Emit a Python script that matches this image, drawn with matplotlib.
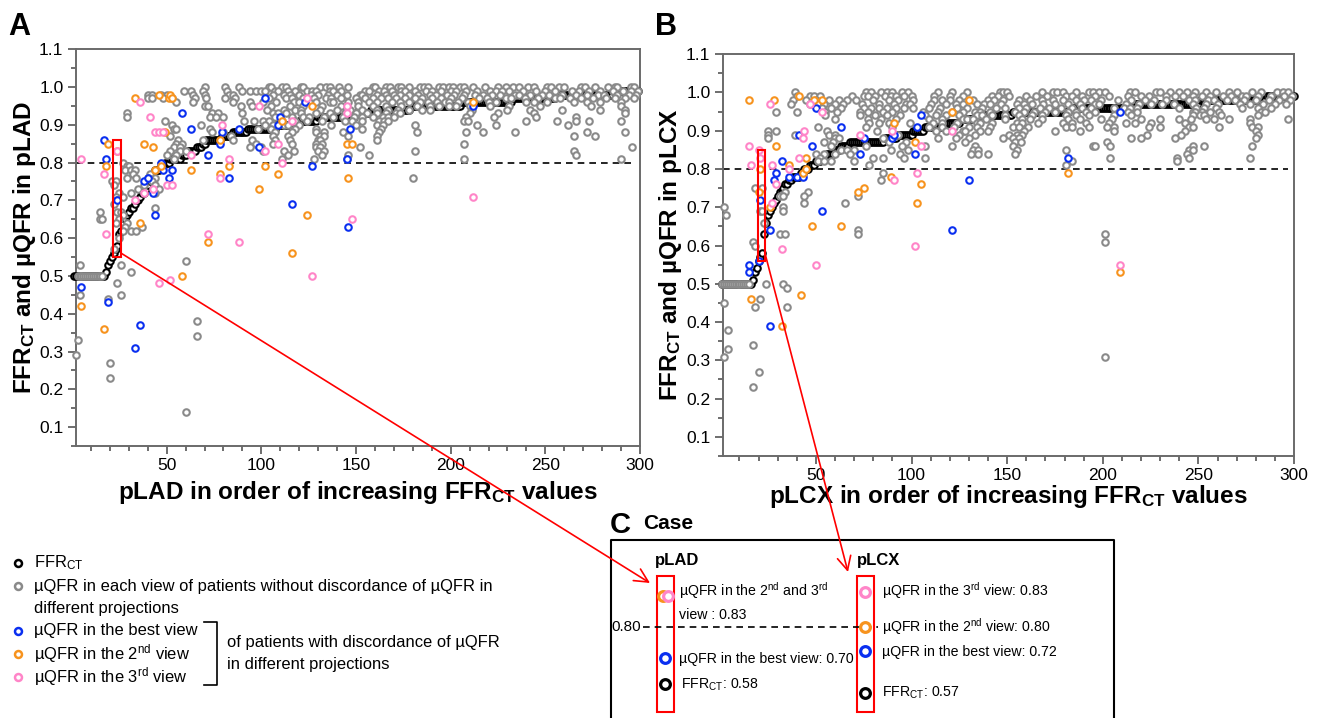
import numpy as np
import matplotlib
matplotlib.use("Agg")
import matplotlib.pyplot as plt
from matplotlib.lines import Line2D
from matplotlib.patches import Rectangle, ConnectionPatch
from matplotlib.ticker import FixedLocator, MultipleLocator, FormatStrFormatter

plt.rcParams["font.family"] = ["Liberation Sans", "DejaVu Sans"]
plt.rcParams["mathtext.fontset"] = "custom"
plt.rcParams["mathtext.rm"] = "Liberation Sans"
plt.rcParams["mathtext.it"] = "Liberation Sans:italic"
plt.rcParams["mathtext.bf"] = "Liberation Sans:bold"

W, H = 1318, 718

GRAY = "#8a8a8a"
BLUE = "#0a2ff0"
ORANGE = "#f7931e"
PINK = "#ff85c8"

# ------------------------------------------------------------------ #
#  Data                                        #
# ------------------------------------------------------------------ #

# FFR_CT sorted ascending: (value, number of vessels)
FFR_A_RUNS = [(0.50, 17), (0.51, 1), (0.53, 1), (0.54, 1), (0.55, 1), (0.56, 1),
              (0.57, 1), (0.58, 1), (0.61, 1), (0.62, 1), (0.64, 1), (0.65, 1),
              (0.66, 1), (0.67, 1), (0.68, 2), (0.69, 1), (0.70, 2), (0.71, 1),
              (0.72, 2), (0.73, 1), (0.74, 1), (0.75, 1), (0.76, 1), (0.77, 1),
              (0.78, 3), (0.79, 2), (0.80, 3), (0.81, 6), (0.82, 3), (0.83, 5),
              (0.84, 3), (0.85, 2), (0.86, 8), (0.87, 6), (0.88, 8), (0.89, 15),
              (0.90, 12), (0.91, 10), (0.92, 20), (0.93, 8), (0.94, 21),
              (0.95, 27), (0.96, 27), (0.97, 23), (0.98, 30), (0.99, 14)]

FFR_B_RUNS = [(0.50, 16), (0.51, 1), (0.53, 1), (0.54, 1), (0.56, 1), (0.57, 1),
              (0.58, 1), (0.63, 1), (0.66, 1), (0.68, 1), (0.69, 1), (0.70, 1),
              (0.71, 1), (0.72, 1), (0.73, 1), (0.74, 2), (0.75, 1), (0.76, 2),
              (0.77, 2), (0.78, 4), (0.79, 2), (0.80, 3), (0.81, 3), (0.82, 3),
              (0.83, 3), (0.84, 4), (0.85, 3), (0.86, 5), (0.87, 18), (0.88, 7),
              (0.89, 8), (0.90, 6), (0.91, 11), (0.92, 8), (0.93, 10),
              (0.94, 17), (0.95, 30), (0.96, 32), (0.97, 36), (0.98, 35),
              (0.99, 15)]

# uQFR of vessels without discordance: {uQFR value: [vessel ranks]}
GRAY_A = {
    1.00: [70, 81, 88, 104, 105, 111, 113, 121, 122, 131, 134, 136, 141, 146, 159, 160,
           166, 168, 172, 174, 178, 184, 186, 188, 194, 196, 199, 201, 205, 207, 212,
           218, 225, 229, 233, 236, 241, 244, 251, 253, 257, 260, 269, 271, 276, 283,
           287, 288, 295, 297],
    0.99: [59, 63, 69, 82, 90, 94, 97, 100, 102, 107, 109, 114, 118, 124, 127, 129, 136,
           138, 142, 155, 157, 162, 165, 169, 174, 176, 181, 187, 190, 195, 200, 203,
           208, 214, 221, 224, 227, 231, 238, 245, 250, 255, 264, 268, 273, 279, 286,
           291, 295, 299],
    0.98: [40, 42, 47, 50, 64, 70, 83, 85, 106, 112, 115, 120, 126, 130, 135, 140, 145,
           152, 153, 161, 166, 170, 173, 178, 183, 189, 192, 198, 202, 207, 213, 217,
           222, 226, 234, 236, 242, 248, 252, 259, 266, 272, 278, 281, 288, 294, 298],
    0.97: [40, 42, 48, 53, 65, 71, 81, 86, 104, 113, 116, 122, 128, 134, 137, 142, 150,
           155, 159, 163, 167, 171, 176, 181, 185, 190, 195, 200, 206, 215, 219, 229,
           232, 239, 246, 255, 258, 263, 269, 275, 282, 287, 292, 297],
    0.96: [55, 64, 85, 94, 101, 108, 117, 120, 129, 136, 138, 146, 151, 157, 161, 169,
           173, 178, 184, 188, 193, 197, 199, 204, 209, 220, 224, 240, 244, 251, 265,
           272, 279, 290],
    0.95: [70, 72, 89, 95, 105, 115, 122, 132, 142, 151, 159, 166, 174, 182, 189, 194,
           199, 203, 210, 221, 231, 247, 274, 290],
    0.94: [103, 112, 118, 121, 131, 140, 147, 153, 161, 167, 172, 178, 185, 189, 211,
           230, 242, 259, 279, 292],
    0.93: [29, 74, 77, 90, 106, 109, 113, 121, 129, 136, 144, 150, 156, 161, 166, 171,
           173, 210, 225, 244, 292],
    0.92: [29, 73, 76, 80, 107, 116, 122, 125, 133, 138, 143, 149, 153, 159, 164, 167,
           170, 208, 223, 245, 266],
    0.91: [49, 91, 96, 101, 104, 111, 118, 124, 132, 144, 148, 153, 162, 165, 167, 207,
           209, 240, 256, 266, 273, 290],
    0.90: [53, 68, 102, 106, 112, 114, 120, 137, 150, 161, 164, 181, 214, 224, 262],
    0.89: [54, 55, 73, 98, 105, 118, 129, 153, 163],
    0.88: [74, 80, 107, 116, 129, 133, 143, 162, 182, 208, 217, 234, 272, 292],
    0.87: [52, 84, 106, 114, 131, 133, 146, 161, 265, 276],
    0.86: [56, 69, 85, 95, 107, 115, 130, 131, 161],
    0.85: [55, 58, 97, 106, 116, 129, 132, 207],
    0.84: [54, 57, 94, 100, 129, 131, 152, 296],
    0.83: [52, 57, 60, 101, 112, 117, 130, 133, 181, 265],
    0.82: [50, 55, 114, 132, 146, 157, 266],
    0.81: [54, 111, 128, 145, 207, 290],
    0.80: [27],
    0.79: [29, 30],
    0.78: [28, 31, 33],
    0.77: [32, 41],
    0.76: [29, 34, 40, 44, 180],
    0.75: [21, 23, 42],
    0.74: [22, 38, 44],
    0.73: [35, 46],
    0.72: [25, 31, 44],
    0.71: [23, 27],
    0.70: [24],
    0.69: [22],
    0.68: [44],
    0.67: [15, 24, 26],
    0.66: [27],
    0.65: [15, 16, 25],
    0.64: [23, 29],
    0.63: [28, 37],
    0.62: [27, 31, 34],
    0.60: [25],
    0.57: [22],
    0.54: [60],
    0.53: [4, 26],
    0.51: [31],
    0.50: [3, 4, 5, 6, 7, 8, 9, 10, 11, 12, 13, 14, 15, 16],
    0.48: [24],
    0.45: [4, 26],
    0.44: [19],
    0.38: [66],
    0.34: [66],
    0.33: [3],
    0.29: [2],
    0.27: [20],
    0.23: [20],
    0.14: [60],
}

GRAY_B = {
    1.00: [39, 76, 79, 84, 87, 90, 95, 98, 114, 121, 129, 146, 148, 150, 168, 174, 176,
           179, 186, 193, 195, 198, 201, 214, 217, 228, 230, 235, 240, 244, 248, 254,
           259, 266, 270, 278, 283, 291, 294, 297],
    0.99: [40, 47, 49, 52, 69, 75, 77, 81, 86, 89, 92, 96, 100, 112, 120, 127, 142, 145,
           151, 160, 165, 171, 181, 184, 189, 196, 203, 213, 220, 224, 233, 238, 242,
           247, 252, 256, 263, 267, 273, 275, 281, 288, 295, 299],
    0.98: [38, 45, 50, 57, 62, 66, 71, 80, 88, 93, 101, 112, 116, 120, 125, 132, 140,
           143, 148, 156, 162, 168, 174, 179, 186, 190, 194, 199, 208, 215, 222, 227,
           233, 245, 248, 255, 258, 265, 269, 274, 280, 287, 292, 298],
    0.97: [37, 47, 51, 54, 60, 64, 74, 83, 91, 97, 99, 110, 118, 123, 127, 134, 138,
           141, 147, 155, 159, 163, 169, 175, 182, 188, 196, 198, 212, 219, 225, 231,
           237, 247, 254, 260, 272, 277, 284, 290, 296],
    0.96: [53, 58, 63, 75, 79, 83, 87, 92, 96, 101, 109, 115, 124, 129, 137, 144, 149,
           156, 160, 167, 172, 178, 184, 189, 194, 206, 211, 214, 218, 240, 249, 253,
           259, 273, 281, 288],
    0.95: [29, 40, 55, 61, 73, 77, 85, 90, 106, 114, 121, 127, 133, 136, 141, 154, 159,
           164, 170, 175, 182, 186, 191, 196, 213, 218, 247, 248, 252, 256, 261, 283,
           285],
    0.94: [55, 73, 81, 87, 94, 107, 113, 118, 125, 134, 137, 142, 149, 156, 163, 168,
           181, 186, 193, 206, 215, 247, 251, 253, 262, 281],
    0.93: [60, 77, 84, 92, 109, 116, 127, 129, 132, 139, 149, 158, 162, 168, 182, 188,
           199, 205, 220, 230, 240, 246, 254, 258, 266, 277, 297],
    0.92: [78, 83, 88, 99, 111, 116, 124, 134, 136, 142, 155, 158, 166, 179, 184, 191,
           203, 212, 217, 225, 243, 277],
    0.91: [51, 76, 90, 109, 116, 122, 130, 134, 141, 153, 156, 161, 181, 184, 193, 202,
           206, 224, 230, 245, 247, 261, 278, 281],
    0.90: [25, 29, 56, 82, 113, 118, 127, 128, 136, 140, 159, 175, 188, 206, 243, 280],
    0.89: [25, 39, 57, 60, 93, 125, 133, 151, 155, 158, 223, 241, 281],
    0.88: [25, 60, 62, 85, 114, 123, 130, 148, 153, 156, 215, 220, 238, 280],
    0.87: [54, 59, 88, 97, 128, 154, 157, 202],
    0.86: [58, 76, 95, 107, 121, 133, 153, 195, 196, 204, 247, 253, 278],
    0.85: [63, 66, 70, 89, 98, 132, 135, 155, 181, 245, 247],
    0.84: [50, 54, 60, 68, 94, 131, 135, 140, 154, 244],
    0.83: [52, 80, 85, 96, 107, 204, 239, 245, 277],
    0.82: [51, 54, 58, 70, 184, 239],
    0.81: [78, 181],
    0.79: [85],
    0.77: [84],
    0.75: [18, 22],
    0.74: [34, 46],
    0.73: [31, 33, 44, 72],
    0.71: [44, 65],
    0.70: [2, 33],
    0.69: [21, 22, 33],
    0.68: [3],
    0.66: [23],
    0.64: [72],
    0.63: [31, 34, 72, 201],
    0.61: [17, 201],
    0.60: [18],
    0.50: [1, 2, 3, 4, 5, 6, 7, 8, 9, 10, 11, 12, 13, 14, 15, 24, 33],
    0.49: [35],
    0.46: [21],
    0.45: [2],
    0.44: [18, 35],
    0.38: [4],
    0.34: [17],
    0.33: [4],
    0.31: [2, 201],
    0.27: [20],
    0.23: [17],
}

# discordant vessels: (rank, uQFR)
BLUE_A = [(5, 0.47), (17, 0.86), (18, 0.81), (19, 0.43), (24, 0.70), (33, 0.31),
          (36, 0.37), (38, 0.75), (40, 0.76), (43, 0.72), (44, 0.66), (47, 0.80),
          (48, 0.78), (51, 0.76), (53, 0.78), (58, 0.93), (63, 0.89), (72, 0.82),
          (78, 0.85), (79, 0.88), (83, 0.76), (88, 0.89), (99, 0.84), (102, 0.97),
          (109, 0.90), (110, 0.92), (116, 0.69), (123, 0.96), (127, 0.79),
          (145, 0.81), (146, 0.63), (147, 0.89), (212, 0.95)]
ORANGE_A = [(5, 0.42), (17, 0.36), (18, 0.79), (19, 0.85), (24, 0.83), (33, 0.97),
            (36, 0.64), (38, 0.85), (43, 0.84), (44, 0.78), (47, 0.79), (46, 0.98),
            (49, 0.88), (51, 0.97), (52, 0.98), (53, 0.97), (58, 0.50), (63, 0.78),
            (72, 0.59), (78, 0.86), (78, 0.77), (83, 0.79), (99, 0.73), (102, 0.79),
            (109, 0.77), (111, 0.91), (116, 0.56), (124, 0.66), (127, 0.95),
            (145, 0.85), (148, 0.85), (146, 0.76), (212, 0.96)]
PINK_A = [(5, 0.81), (17, 0.77), (18, 0.61), (24, 0.83), (33, 0.70), (36, 0.96),
          (38, 0.72), (41, 0.92), (43, 0.73), (44, 0.88), (46, 0.88), (48, 0.88),
          (46, 0.48), (50, 0.74), (52, 0.49), (53, 0.74), (63, 0.82), (72, 0.61),
          (79, 0.90), (83, 0.81), (78, 0.76), (88, 0.59), (99, 0.95), (102, 0.83),
          (109, 0.85), (111, 0.80), (116, 0.91), (124, 0.97), (127, 0.50),
          (145, 0.95), (145, 0.93), (148, 0.65), (212, 0.71)]

BLUE_B = [(15, 0.55), (15, 0.53), (20, 0.56), (21, 0.72), (26, 0.64), (26, 0.39),
          (28, 0.77), (29, 0.79), (32, 0.82), (36, 0.78), (40, 0.78), (41, 0.89),
          (43, 0.78), (48, 0.86), (50, 0.96), (53, 0.69), (63, 0.91), (73, 0.84),
          (75, 0.88), (90, 0.88), (91, 0.89), (102, 0.84), (103, 0.91),
          (105, 0.94), (121, 0.64), (130, 0.77), (182, 0.83), (209, 0.95)]
ORANGE_B = [(15, 0.98), (16, 0.46), (20, 0.74), (21, 0.80), (26, 0.70), (28, 0.98),
            (29, 0.86), (32, 0.39), (36, 0.81), (42, 0.47), (43, 0.79), (45, 0.80),
            (45, 0.83), (41, 0.99), (49, 0.98), (53, 0.98), (48, 0.65), (63, 0.65),
            (72, 0.74), (75, 0.75), (89, 0.78), (91, 0.92), (102, 0.87), (103, 0.71),
            (105, 0.76), (121, 0.95), (130, 0.98), (182, 0.79), (209, 0.53)]
PINK_B = [(15, 0.86), (16, 0.81), (20, 0.85), (21, 0.83), (26, 0.97), (27, 0.71),
          (27, 0.81), (29, 0.76), (32, 0.59), (36, 0.80), (41, 0.83), (44, 0.90),
          (43, 0.88), (47, 0.97), (53, 0.95), (50, 0.55), (73, 0.89), (90, 0.90),
          (91, 0.77), (102, 0.60), (103, 0.79), (105, 0.86), (121, 0.90),
          (209, 0.55)]

X_TICKS = [50, 100, 150, 200, 250, 300]
Y_TICKS = [0.1, 0.2, 0.3, 0.4, 0.5, 0.6, 0.7, 0.8, 0.9, 1.0, 1.1]
CUTOFF = 0.80


def fx(px):
    return px / W


def fy(py):
    return 1 - py / H


def expand_runs(runs):
    vals = []
    for v, n in runs:
        vals += [v] * n
    return np.arange(1, len(vals) + 1), np.array(vals)


def expand_levels(levels):
    xs, ys = [], []
    for v, ranks in levels.items():
        xs += ranks
        ys += [v] * len(ranks)
    return np.array(xs), np.array(ys)


def ring(ax, x, y, color, z):
    ax.scatter(x, y, s=22, facecolors="white", edgecolors=color,
               linewidths=1.5, zorder=z, clip_on=False)


def draw_panel(ax, runs, gray, blue, orange, pink, xlim, rect):
    x_ffr, y_ffr = expand_runs(runs)
    ring(ax, x_ffr, y_ffr, "black", 3)
    gx, gy = expand_levels(gray)
    ring(ax, gx, gy, GRAY, 4)
    for pts, c, z in ((blue, BLUE, 5), (orange, ORANGE, 6), (pink, PINK, 7)):
        px = [p[0] for p in pts]
        py = [p[1] for p in pts]
        ring(ax, px, py, c, z)

    ax.plot([xlim[0], 297], [CUTOFF, CUTOFF], color="black", lw=1.2,
            ls=(0, (4, 3)), zorder=2)
    ax.add_patch(Rectangle((rect[0], rect[1]), rect[2] - rect[0], rect[3] - rect[1],
                           fill=False, ec="red", lw=1.5, zorder=8))

    ax.set_xlim(*xlim)
    ax.set_ylim(0.05, 1.1005)
    ax.xaxis.set_major_locator(FixedLocator(X_TICKS))
    ax.xaxis.set_minor_locator(MultipleLocator(10))
    ax.yaxis.set_major_locator(FixedLocator(Y_TICKS))
    ax.yaxis.set_minor_locator(MultipleLocator(0.05))
    ax.yaxis.set_major_formatter(FormatStrFormatter("%.1f"))
    ax.tick_params(which="both", direction="out", color="#555555", width=1.2,
                   labelsize=12.5, pad=3)
    ax.tick_params(which="major", length=6)
    ax.tick_params(which="minor", length=3.5)
    for sp in ax.spines.values():
        sp.set_color("#6a6a6a")
        sp.set_linewidth(1.4)


fig = plt.figure(figsize=(W / 100, H / 100), dpi=100)

axA = fig.add_axes([fx(76), fy(446), fx(640) - fx(76), fy(49) - fy(446)])
axB = fig.add_axes([fx(723), fy(456), fx(1294) - fx(723), fy(54) - fy(456)])

draw_panel(axA, FFR_A_RUNS, GRAY_A, BLUE_A, ORANGE_A, PINK_A, (2.1, 300),
           (21.5, 0.55, 26, 0.86))
draw_panel(axB, FFR_B_RUNS, GRAY_B, BLUE_B, ORANGE_B, PINK_B, (1.4, 300),
           (19.5, 0.56, 23.6, 0.85))

bold = dict(fontweight="bold", fontsize=17.5)
fig.text(fx(25), fy(247), r"FFR$_{\mathbf{CT}}$ and µQFR in pLAD", rotation=90,
         ha="center", va="center", **bold)
fig.text(fx(670), fy(255), r"FFR$_{\mathbf{CT}}$ and µQFR in pLCX", rotation=90,
         ha="center", va="center", **bold)
fig.text(fx(358), fy(492), r"pLAD in order of increasing FFR$_{\mathbf{CT}}$ values",
         ha="center", va="center", **bold)
fig.text(fx(1008), fy(497), r"pLCX in order of increasing FFR$_{\mathbf{CT}}$ values",
         ha="center", va="center", **bold)

fig.text(fx(8), fy(35), "A", fontsize=22, fontweight="bold", ha="left", va="baseline")
fig.text(fx(655), fy(35), "B", fontsize=22, fontweight="bold", ha="left", va="baseline")
fig.text(fx(610), fy(533), "C", fontsize=21, fontweight="bold", ha="left", va="baseline")
fig.text(fx(643), fy(529), "Case", fontsize=15, fontweight="bold", ha="left",
         va="baseline")

# legend, bottom left
legend_rows = [
    ("black", 563, r"FFR$_{\mathrm{CT}}$"),
    (GRAY, 586, "µQFR in each view of patients without discordance of µQFR in"),
    (None, 608, "different projections"),
    (BLUE, 631, "µQFR in the best view"),
    (ORANGE, 654, r"µQFR in the 2$^{\mathrm{nd}}$ view"),
    (PINK, 677, r"µQFR in the 3$^{\mathrm{rd}}$ view"),
]
for color, py, label in legend_rows:
    if color is not None:
        fig.add_artist(Line2D([fx(18)], [fy(py)], marker="o", ms=5, mew=1.8,
                              mec=color, mfc="white", ls="none",
                              transform=fig.transFigure))
    fig.text(fx(34), fy(py), label, fontsize=11.9, ha="left", va="center")

fig.add_artist(Line2D([fx(204), fx(217), fx(217), fx(204)],
                      [fy(622), fy(622), fy(685), fy(685)],
                      color="black", lw=1.2, transform=fig.transFigure))
fig.text(fx(227), fy(642), "of patients with discordance of µQFR", fontsize=11.9,
         ha="left", va="center")
fig.text(fx(227), fy(664), "in different projections", fontsize=11.9,
         ha="left", va="center")

# panel C box (open at the bottom)
fig.add_artist(Line2D([fx(611), fx(611), fx(1114), fx(1114)],
                      [fy(720), fy(540), fy(540), fy(720)],
                      color="black", lw=1.5, transform=fig.transFigure))

fig.text(fx(655), fy(561), "pLAD", fontsize=12, fontweight="bold", ha="left",
         va="center")
fig.text(fx(857), fy(561), "pLCX", fontsize=12, fontweight="bold", ha="left",
         va="center")

for x0 in (657, 857):
    fig.add_artist(Rectangle((fx(x0), fy(712)), fx(17), fy(576) - fy(712),
                             fill=False, ec="red", lw=1.5,
                             transform=fig.transFigure))

fig.add_artist(Line2D([fx(643), fx(878)], [fy(627), fy(627)], color="black",
                      lw=1.2, ls=(0, (4, 3)), transform=fig.transFigure))
fig.text(fx(641), fy(627), "0.80", fontsize=11, ha="right", va="center")

case_marks = [
    (663, 596, ORANGE), (668, 596, PINK), (665, 658, BLUE), (665, 684, "black"),
    (865, 592, PINK), (865, 627, ORANGE), (865, 651, BLUE), (865, 693, "black"),
]
for px, py, c in case_marks:
    fig.add_artist(Line2D([fx(px)], [fy(py)], marker="o", ms=7, mew=2.3, mec=c,
                          mfc="white", ls="none", transform=fig.transFigure))

case_text = [
    (679, 591, r"µQFR in the 2$^{\mathrm{nd}}$ and 3$^{\mathrm{rd}}$"),
    (679, 615, "view : 0.83"),
    (679, 659, "µQFR in the best view: 0.70"),
    (681, 685, r"FFR$_{\mathrm{CT}}$: 0.58"),
    (882, 591, r"µQFR in the 3$^{\mathrm{rd}}$ view: 0.83"),
    (882, 627, r"µQFR in the 2$^{\mathrm{nd}}$ view: 0.80"),
    (882, 652, "µQFR in the best view: 0.72"),
    (882, 693, r"FFR$_{\mathrm{CT}}$: 0.57"),
]
for px, py, s in case_text:
    fig.text(fx(px), fy(py), s, fontsize=10.2, ha="left", va="center")

# red connectors from the highlighted cases to panel C
for ax, start, end in ((axA, (26, 0.56), (650, 583)),
                       (axB, (23.6, 0.575), (848, 572))):
    con = ConnectionPatch(xyA=start, coordsA=ax.transData,
                          xyB=(fx(end[0]), fy(end[1])), coordsB=fig.transFigure,
                          arrowstyle="->,head_length=0.7,head_width=0.35",
                          mutation_scale=14, color="red", lw=1.2, zorder=20)
    fig.add_artist(con)

fig.savefig("out.png", dpi=100)
